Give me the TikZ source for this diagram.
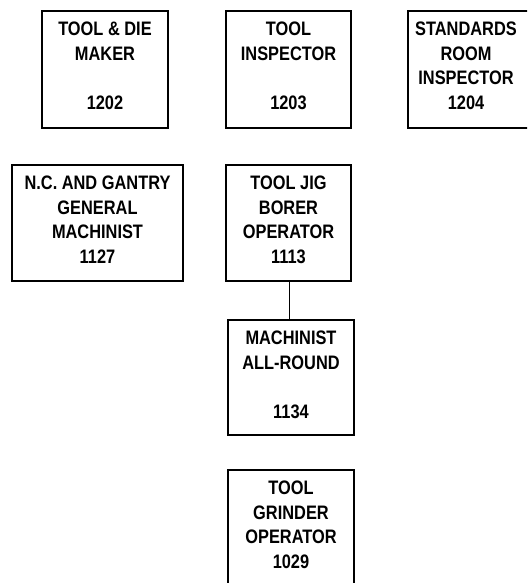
\documentclass[tikz,border=0pt]{standalone}
\usepackage{fontspec}
\setmainfont{Liberation Sans}[FakeStretch=0.84]
\begin{document}
\begin{tikzpicture}[x=1pt,y=-1pt,
  box/.style={draw, line width=2pt, inner sep=0pt, anchor=north west},
  lbl/.style={anchor=north, inner sep=0pt, align=center,
    font=\fontsize{19.5}{24.5}\selectfont\bfseries}]
\useasboundingbox (0,0) rectangle (527,583);
\clip (0,0) rectangle (527,583);
% row 1
\node[box, minimum width=126pt, minimum height=117pt] (b1) at (41,10) {};
\node[box, minimum width=125pt, minimum height=117pt] (b2) at (225,10) {};
\node[box, minimum width=130pt, minimum height=117pt] (b3) at (407,10) {};
% row 2
\node[box, minimum width=171pt, minimum height=116pt] (b4) at (11,164) {};
\node[box, minimum width=125pt, minimum height=116pt] (b5) at (225,164) {};
% row 3
\node[box, minimum width=126pt, minimum height=115pt] (b6) at (227,319) {};
% row 4
\node[box, minimum width=126pt, minimum height=130pt] (b7) at (227,469) {};
% labels
\node[lbl] (t1) at ([yshift=-12pt]b1.north) {TOOL \& DIE\\MAKER\\\mbox{}\\1202};
\node[lbl] (t2) at ([yshift=-12pt]b2.north) {TOOL\\INSPECTOR\\\mbox{}\\1203};
\node[lbl] (t3) at (466,22) {STANDARDS\\ROOM\\INSPECTOR\\1204};
\node[lbl] (t4) at ([yshift=-12pt]b4.north) {N.C. AND GANTRY\\GENERAL\\MACHINIST\\1127};
\node[lbl] (t5) at ([yshift=-12pt]b5.north) {TOOL JIG\\BORER\\OPERATOR\\1113};
\node[lbl] (t6) at ([yshift=-12pt]b6.north) {MACHINIST\\ALL-ROUND\\\mbox{}\\1134};
\node[lbl] (t7) at ([yshift=-12pt]b7.north) {TOOL\\GRINDER\\OPERATOR\\1029};
% connector
\draw[line width=1.8pt] ([xshift=1pt]b5.south) -- ([xshift=1pt]b5.south |- b6.north);
\end{tikzpicture}
\end{document}
